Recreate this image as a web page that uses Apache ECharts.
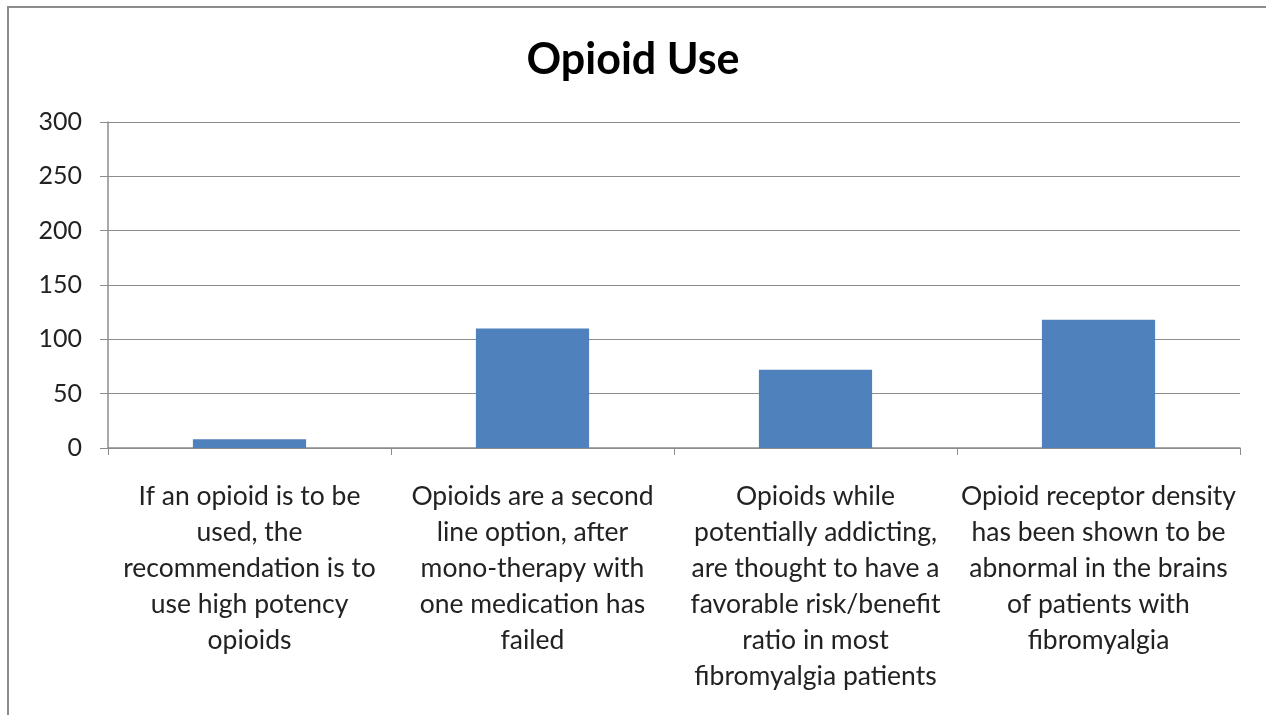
<!DOCTYPE html>
<html>
<head>
<meta charset="utf-8">
<script src="https://cdn.jsdelivr.net/npm/echarts@6/dist/echarts.min.js"></script>
<style>
  html, body { margin: 0; padding: 0; background: #fff; }
  #chart { width: 1266px; height: 715px; }
</style>
</head>
<body>
<div id="chart"></div>
<script>
// Survey statements and number of responses for each
const categories = [
  "If an opioid is to be\nused, the\nrecommendation is to\nuse high potency\nopioids",
  "Opioids are a second\nline option, after\nmono-therapy with\none medication has\nfailed",
  "Opioids while\npotentially addicting,\nare thought to have a\nfavorable risk/benefit\nratio in most\nfibromyalgia patients",
  "Opioid receptor density\nhas been shown to be\nabnormal in the brains\nof patients with\nfibromyalgia"
];
const responses = [8, 110, 72, 118];
const yTicks = { min: 0, max: 300, interval: 50 };

const chart = echarts.init(document.getElementById('chart'));
const font = 'Lato, "Open Sans", sans-serif';
chart.setOption({
  animation: false,
  backgroundColor: '#ffffff',
  title: {
    text: 'Opioid Use',
    left: 'center',
    top: 34,
    textStyle: { fontFamily: font, fontSize: 43, fontWeight: 'bold', color: '#000' }
  },
  graphic: [{
    type: 'rect',
    shape: { x: 8, y: 7, width: 1270, height: 720 },
    style: { fill: 'none', stroke: '#8c8c8c', lineWidth: 2 },
    silent: true
  }],
  grid: { left: 108, right: 26, top: 122, bottom: 267, containLabel: false },
  xAxis: {
    type: 'category',
    data: categories,
    axisLine: { lineStyle: { color: '#8c8c8c', width: 1.5 } },
    axisTick: { show: true, length: 7, alignWithLabel: false, lineStyle: { color: '#8c8c8c' } },
    axisLabel: {
      interval: 0,
      margin: 30,
      fontFamily: font,
      fontSize: 26.5,
      lineHeight: 36,
      color: '#222',
      align: 'center',
      verticalAlign: 'top'
    }
  },
  yAxis: {
    type: 'value',
    min: yTicks.min,
    max: yTicks.max,
    interval: yTicks.interval,
    axisLine: { show: true, lineStyle: { color: '#8c8c8c', width: 1.5 } },
    axisTick: { show: true, length: 8, lineStyle: { color: '#8c8c8c' } },
    splitLine: { lineStyle: { color: '#8c8c8c', width: 1 } },
    axisLabel: { fontFamily: font, fontSize: 25, color: '#222', margin: 26 }
  },
  series: [{
    type: 'bar',
    data: responses,
    barWidth: '40%',
    itemStyle: { color: '#4f81bd' }
  }]
});
</script>
</body>
</html>
